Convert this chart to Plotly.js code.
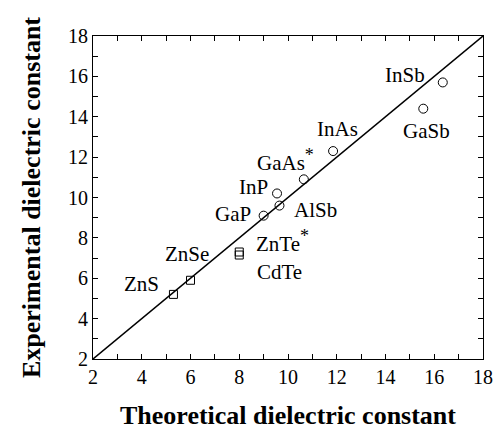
<!DOCTYPE html>
<html>
<head>
<meta charset="utf-8">
<script src="https://cdn.plot.ly/plotly-3.0.1.min.js"></script>
<style>html,body{margin:0;padding:0;background:#fff;}#chart{width:502px;height:438px;}</style>
</head>
<body>
<div id="chart"></div>
<script>
// Data
const circleNames = ["GaP", "InP", "AlSb", "GaAs", "InAs", "GaSb", "InSb"];
const circleTheory = [9.0, 9.55, 9.65, 10.65, 11.85, 15.55, 16.35];
const circleExp = [9.1, 10.2, 9.6, 10.9, 12.3, 14.4, 15.7];
const squareNames = ["ZnS", "ZnSe", "ZnTe", "CdTe"];
const squareTheory = [5.3, 6.0, 8.0, 8.0];
const squareExp = [5.2, 5.9, 7.3, 7.15];
const lineRange = [2, 18];
const tickVals = [2, 4, 6, 8, 10, 12, 14, 16, 18];

const star = "<sup><span style='font-size:18px'>*</span></sup>";
const labelText = {
  GaP: "GaP", InP: "InP", AlSb: "AlSb", GaAs: "GaAs" + star, InAs: "InAs",
  GaSb: "GaSb", InSb: "InSb", ZnS: "ZnS", ZnSe: "ZnSe", ZnTe: "ZnTe" + star, CdTe: "CdTe"
};
// label offsets in pixels (style)
const labelOffset = {
  GaP: [-31, -2], InP: [-24, -6], AlSb: [36, 4], GaAs: [-18, -19], InAs: [4, -22],
  GaSb: [3, 22], InSb: [-38, -7], ZnS: [-32, -10], ZnSe: [-4, -26], ZnTe: [43, -11], CdTe: [40, 17]
};

const serif = "Liberation Serif";

const traces = [
  {x: lineRange, y: lineRange, mode: "lines", line: {color: "#000", width: 1.5}, hoverinfo: "skip"},
  {x: circleTheory, y: circleExp, mode: "markers",
   marker: {symbol: "circle-open", size: 9, color: "#000", line: {width: 1, color: "#000"}}},
  {x: squareTheory, y: squareExp, mode: "markers",
   marker: {symbol: "square-open", size: 8, color: "#000", line: {width: 1, color: "#000"}}}
];

const annotations = [];
function addLabels(names, xs, ys) {
  names.forEach((n, i) => {
    const off = labelOffset[n];
    annotations.push({
      x: xs[i], y: ys[i], xref: "x", yref: "y", text: labelText[n],
      showarrow: true, arrowcolor: "rgba(0,0,0,0)", ax: off[0], ay: off[1],
      font: {family: serif, size: 21, color: "#000"}
    });
  });
}
addLabels(circleNames, circleTheory, circleExp);
addLabels(squareNames, squareTheory, squareExp);

const axisCommon = {
  range: [2, 18], tickvals: tickVals, ticks: "inside", ticklen: 5, tickwidth: 1, tickcolor: "#000",
  showline: true, linecolor: "#000", linewidth: 1, mirror: "ticks", showgrid: false, zeroline: false,
  tickfont: {family: serif, size: 20, color: "#000"},
  minor: {dtick: 1, ticks: "inside", ticklen: 5, tickcolor: "#000", showgrid: false}
};

const layout = {
  width: 502, height: 438,
  margin: {l: 93, r: 19, t: 36, b: 79},
  paper_bgcolor: "#fff", plot_bgcolor: "#fff",
  showlegend: false,
  xaxis: Object.assign({}, axisCommon, {
    title: {text: "<b>Theoretical dielectric constant</b>", font: {family: serif, size: 26, color: "#000"}, standoff: 18}
  }),
  yaxis: Object.assign({}, axisCommon, {
    title: {text: "<b>Experimental dielectric constant</b>", font: {family: serif, size: 26, color: "#000"}, standoff: 19}
  }),
  annotations: annotations
};

Plotly.newPlot("chart", traces, layout, {displayModeBar: false, staticPlot: true});
</script>
</body>
</html>
